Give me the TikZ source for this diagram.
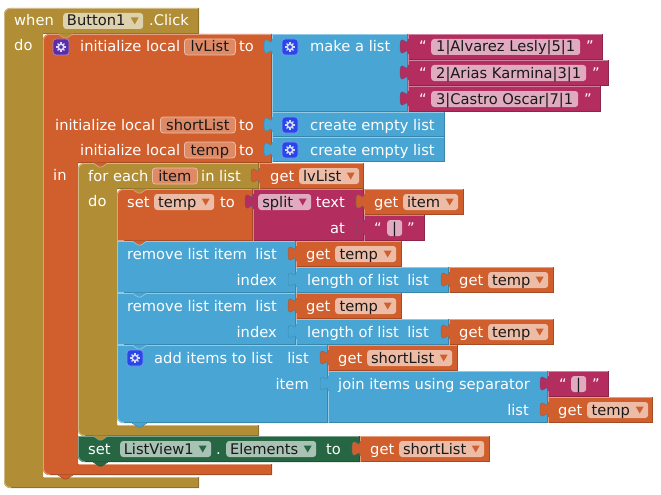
\documentclass[tikz,border=0pt]{standalone}
\usepackage{fontspec}
\setmainfont{DejaVu Sans}
\usepackage{tikz}

\definecolor{ctlF}{HTML}{B18E35}
\definecolor{ctlD}{HTML}{8E722A}
\definecolor{ctlL}{HTML}{D0BB86}
\definecolor{ctlP}{HTML}{DED2AE}
\definecolor{varF}{HTML}{D05F2D}
\definecolor{varD}{HTML}{A64C24}
\definecolor{varL}{HTML}{E3A083}
\definecolor{varP}{HTML}{EDBCA6}
\definecolor{varA}{HTML}{DE8A66}
\definecolor{lstF}{HTML}{49A6D4}
\definecolor{lstD}{HTML}{3A85AA}
\definecolor{lstL}{HTML}{92CAE5}
\definecolor{txtF}{HTML}{B32D5E}
\definecolor{txtD}{HTML}{8F244B}
\definecolor{txtL}{HTML}{D181A0}
\definecolor{txtP}{HTML}{E0ABBF}
\definecolor{cmpF}{HTML}{266643}
\definecolor{cmpD}{HTML}{1E5236}
\definecolor{cmpL}{HTML}{7DA38E}
\definecolor{cmpP}{HTML}{A8C2B4}
\definecolor{gearP}{HTML}{5B2DA6}
\definecolor{gearB}{HTML}{2847E8}

\tikzset{
  lbl/.style={inner sep=0pt, anchor=west, text=white, text height=10.5pt, text depth=.5pt},
  lblr/.style={lbl, anchor=east},
  field/.style={rounded corners=3pt, inner sep=0pt, anchor=west, minimum height=16pt,
    text=black!90, text height=10.5pt, text depth=.5pt},
  strf/.style={field, fill=txtP},
  argf/.style={field, fill=varA, draw=varP, line width=.8pt},
  dropf/.style={field, fill=#1P, execute at end node=\hspace{14pt},
    path picture={\fill[#1F, sharp corners] ([shift={(-12.5,-3.5)}]path picture bounding box.east)
      -- ++(8,0) -- ++(-4,7) -- cycle;}},
  gearbox/.style={rounded corners=3pt, minimum size=16pt, inner sep=0pt, draw=#1!60!white, fill=#1, line width=.8pt},
  gearicon/.pic={
    \draw[white!85!blue, line width=1.6pt] (0,0) circle (2.8pt);
    \foreach \a in {0,45,...,315} \draw[white!85!blue, line width=1.3pt] (\a:3pt) -- (\a:4.9pt);
  },
  blkedge/.style={line width=.8pt}
}

\begin{document}
\begin{tikzpicture}[x=1pt,y=-1pt,font=\fontsize{14.67pt}{17pt}\selectfont]
    \useasboundingbox (0,0) rectangle (661,495);

    %Blocks that wrap others
    \foreach \xa/\ya/\hr/\hb/\cx/\bt/\br/\bb/\kind in {
        4/8/199/34/43/477/199/488/ctl,
        43/34/272/163/78/464/272/475/var,
        78/163/259/189/117/425/259/436/ctl}{
      \fill[fill=\kind F] [rounded corners=6pt] (\xa,\ya+20) -- (\xa,\ya) [sharp corners] -- (\hr,\ya) -- (\hr,\hb)
        -- (\cx,\hb) -- (\cx,\bt) -- (\br,\bt) -- (\br,\bb) [rounded corners=6pt] -- (\xa,\bb) -- cycle;
      \draw[blkedge, draw=\kind D] (\hr-.5,\ya) -- (\hr-.5,\hb-.5) -- (\cx,\hb-.5);
      \draw[blkedge, draw=\kind D] (\br-.5,\bt) -- (\br-.5,\bb-.5) -- (\xa+7,\bb-.5);
      \draw[blkedge, draw=\kind L] (\cx+.5,\bt+.5) -- (\br-1,\bt+.5);
      \draw[blkedge, draw=\kind L] [rounded corners=6pt] (\xa+7,\bb-.5) -- (\xa+.5,\bb-.5) -- (\xa+.5,\ya+.5) [sharp corners] -- (\hr-1,\ya+.5);
    }

    %Statement blocks
    \foreach \xa/\ya/\xb/\yb/\kind/\rtl/\rbl in {
        117/189/253/241/var/6/0,
        117/241/296/293/lst/0/0,
        117/293/296/345/lst/0/0,
        117/345/328/423/lst/0/6,
        78/436/360/462/cmp/0/6}{
      \fill[fill=\kind F] [rounded corners=\rbl pt] (\xb,\yb) -- (\xa,\yb) [rounded corners=\rtl pt] -- (\xa,\ya) [sharp corners] -- (\xb,\ya) -- cycle;
      \draw[blkedge, draw=\kind D] (\xb-.5,\ya) -- (\xb-.5,\yb-.5) -- (\xa+7,\yb-.5);
      \draw[blkedge, draw=\kind L] [rounded corners=\rbl pt] (\xa+7,\yb-.5) -- (\xa+.5,\yb-.5) [rounded corners=\rtl pt] -- (\xa+.5,\ya+.5) [sharp corners] -- (\xb-1,\ya+.5);
    }

    %Value blocks with their tabs
    \foreach \xa/\ya/\xb/\yb/\kind in {
        272/34/408/112/lst, 272/112/445/137/lst, 272/137/445/162/lst,
        408/34/603/60/txt, 408/60/609/86/txt, 408/86/601/112/txt,
        259/163/364/189/var,
        253/189/364/241/txt, 364/189/464/215/var, 364/215/425/241/txt,
        296/241/402/267/var, 296/267/449/293/lst, 449/267/554/293/var,
        296/293/402/319/var, 296/319/449/345/lst, 449/319/554/345/var,
        328/345/458/371/var, 328/371/548/423/lst,
        548/371/609/397/txt, 548/397/653/423/var,
        360/436/490/462/var}{
      \fill[fill=\kind F] (\xa,\ya) rectangle (\xb,\yb);
      \draw[blkedge, draw=\kind D] (\xb-.5,\ya) -- (\xb-.5,\yb-.5) -- (\xa,\yb-.5);
      \draw[blkedge, draw=\kind L] (\xa+.5,\yb) -- (\xa+.5,\ya+.5) -- (\xb-1,\ya+.5);
      \begin{scope}[shift={(\xa,\ya)}]
        \fill[fill=\kind F] (1,5) -- (0,5) .. controls (0,15) and (-8,-3) .. (-8,12.5)
          .. controls (-8,28) and (0,10) .. (0,20) -- (1,20) -- cycle;
        \draw[draw=\kind D!70!lstF, line width=.5pt] (0,5) .. controls (0,15) and (-8,-3) .. (-8,12.5)
          .. controls (-8,28) and (0,10) .. (0,20);
      \end{scope}
    }

    %Notches
    \foreach \xa/\ya/\kind/\rim in {
        43/34/ctl/varL, 78/163/var/ctlL, 117/189/ctl/varL,
        117/241/var/lstL, 117/293/lst/lstL, 117/345/lst/lstL,
        117/423/lst/lstD, 78/436/ctl/cmpL, 78/462/cmp/cmpD, 43/475/var/varD}{
      \fill[fill=\kind F] (\xa+15,\ya-.5) -- (\xa+21,\ya+4) -- (\xa+24,\ya+4) -- (\xa+30,\ya-.5) -- cycle;
      \draw[draw=\rim, line width=.6pt] (\xa+15,\ya) -- (\xa+21,\ya+4) -- (\xa+24,\ya+4) -- (\xa+30,\ya);
    }

    %Event
    \node[lbl] (whenlbl) at (14,21) {when};
    \node[dropf=ctl, minimum width=80pt] (btnf) at (63,21) {Button1};
    \node[lbl] (clicklbl) at (149,21) {.Click};
    \node[lbl] (dolbl) at (14,46) {do};

    %Local variables
    \node[gearbox=gearP] (gearinit) at (61,47) {};
    \pic at (gearinit) {gearicon};
    \node[lbl] (initlbl) at (80,47) {initialize local};
    \node[argf, minimum width=51pt] (lvlistf) at (184,47) {lvList};
    \node[lbl] (tolbl) at (239,47) {to};
    \node[lbl] (initlblb) at (55,125) {initialize local};
    \node[argf, minimum width=75pt] (shortf) at (160,125) {shortList};
    \node[lbl] (tolblb) at (239,125) {to};
    \node[lbl] (initlblc) at (80,150) {initialize local};
    \node[argf, minimum width=51pt] (tempf) at (184,150) {temp};
    \node[lbl] (tolblc) at (239,150) {to};
    \node[lbl] (inlbl) at (53,175) {in};

    %Lists
    \node[gearbox=gearB] (gearmake) at (290,47) {};
    \pic at (gearmake) {gearicon};
    \node[lbl] (makelbl) at (310,47) {make a list};
    \node[gearbox=gearB] (gearempa) at (290,125) {};
    \pic at (gearempa) {gearicon};
    \node[lbl] (empalbl) at (310,125) {create empty list};
    \node[gearbox=gearB] (gearempb) at (290,150) {};
    \pic at (gearempb) {gearicon};
    \node[lbl] (empblbl) at (310,150) {create empty list};

    %Strings
    \node[lbl] (qa) at (419,47) {“};
    \node[strf, minimum width=149pt] (stra) at (431,47) {1|Alvarez Lesly|5|1};
    \node[lbl] (qb) at (586,47) {”};
    \node[lbl] (qc) at (419,73) {“};
    \node[strf, minimum width=155pt] (strb) at (431,73) {2|Arias Karmina|3|1};
    \node[lbl] (qd) at (592,73) {”};
    \node[lbl] (qe) at (419,99) {“};
    \node[strf, minimum width=147pt] (strc) at (431,99) {3|Castro Oscar|7|1};
    \node[lbl] (qf) at (584,99) {”};

    %For each
    \node[lbl] (forlbl) at (88,176) {for each};
    \node[argf, minimum width=45pt] (itemf) at (152,176) {item};
    \node[lbl] (inlistlbl) at (201,176) {in list};
    \node[lbl] (getlvl) at (270,176) {get};
    \node[dropf=var, minimum width=60pt] (getlvf) at (299,176) {lvList};
    \node[lbl] (dolblb) at (88,201) {do};

    %Split
    \node[lbl] (setlbl) at (127,202) {set};
    \node[dropf=var, minimum width=60pt] (settemp) at (154,202) {temp};
    \node[lbl] (tolbld) at (220,202) {to};
    \node[dropf=txt, minimum width=53pt] (splitf) at (258,202) {split};
    \node[lblr] (textlbl) at (345,202) {text};
    \node[lblr] (atlbl) at (345,228) {at};
    \node[lbl] (getitem) at (374,202) {get};
    \node[dropf=var, minimum width=55pt] (getitemf) at (403,202) {item};
    \node[lbl] (qg) at (374,228) {“};
    \node[strf, minimum width=15pt] (sepa) at (387,228) {|};
    \node[lbl] (qh) at (407,228) {”};

    %Remove items
    \foreach \y/\nm in {254/a,306/b}{
      \node[lbl] (rem\nm) at (127,\y) {remove list item};
      \node[lblr] (remlist\nm) at (277,\y) {list};
      \node[lblr] (index\nm) at (277,\y+26) {index};
      \node[lbl] (get\nm) at (306,\y) {get};
      \node[dropf=var, minimum width=61pt] (getf\nm) at (335,\y) {temp};
      \node[lbl] (len\nm) at (307,\y+26) {length of list};
      \node[lblr] (lenlist\nm) at (429,\y+26) {list};
      \node[lbl] (getl\nm) at (459,\y+26) {get};
      \node[dropf=var, minimum width=60pt] (getlf\nm) at (488,\y+26) {temp};
    }

    %Add items
    \node[gearbox=gearB] (gearadd) at (135,358) {};
    \pic at (gearadd) {gearicon};
    \node[lbl] (addlbl) at (154,358) {add items to list};
    \node[lblr] (addlist) at (309,358) {list};
    \node[lblr] (additem) at (309,384) {item};
    \node[lbl] (getsla) at (338,358) {get};
    \node[dropf=var, minimum width=85pt] (getslaf) at (367,358) {shortList};
    \node[lbl] (joinlbl) at (338,384) {join items using separator};
    \node[lblr] (joinlist) at (529,410) {list};
    \node[lbl] (qi) at (559,384) {“};
    \node[strf, minimum width=15pt] (sepb) at (571,384) {|};
    \node[lbl] (qj) at (592,384) {”};
    \node[lbl] (getjt) at (558,410) {get};
    \node[dropf=var, minimum width=61pt] (getjtf) at (587,410) {temp};

    %ListView
    \node[lbl] (setlblb) at (88,449) {set};
    \node[dropf=cmp, minimum width=91pt] (lvf) at (120,449) {ListView1};
    \node[lbl] (dotlbl) at (216,449) {.};
    \node[dropf=cmp, minimum width=90pt] (elemf) at (226,449) {Elements};
    \node[lbl] (tolble) at (326,449) {to};
    \node[lbl] (getslb) at (370,449) {get};
    \node[dropf=var, minimum width=85pt] (getslbf) at (399,449) {shortList};
  \end{tikzpicture}
\end{document}
